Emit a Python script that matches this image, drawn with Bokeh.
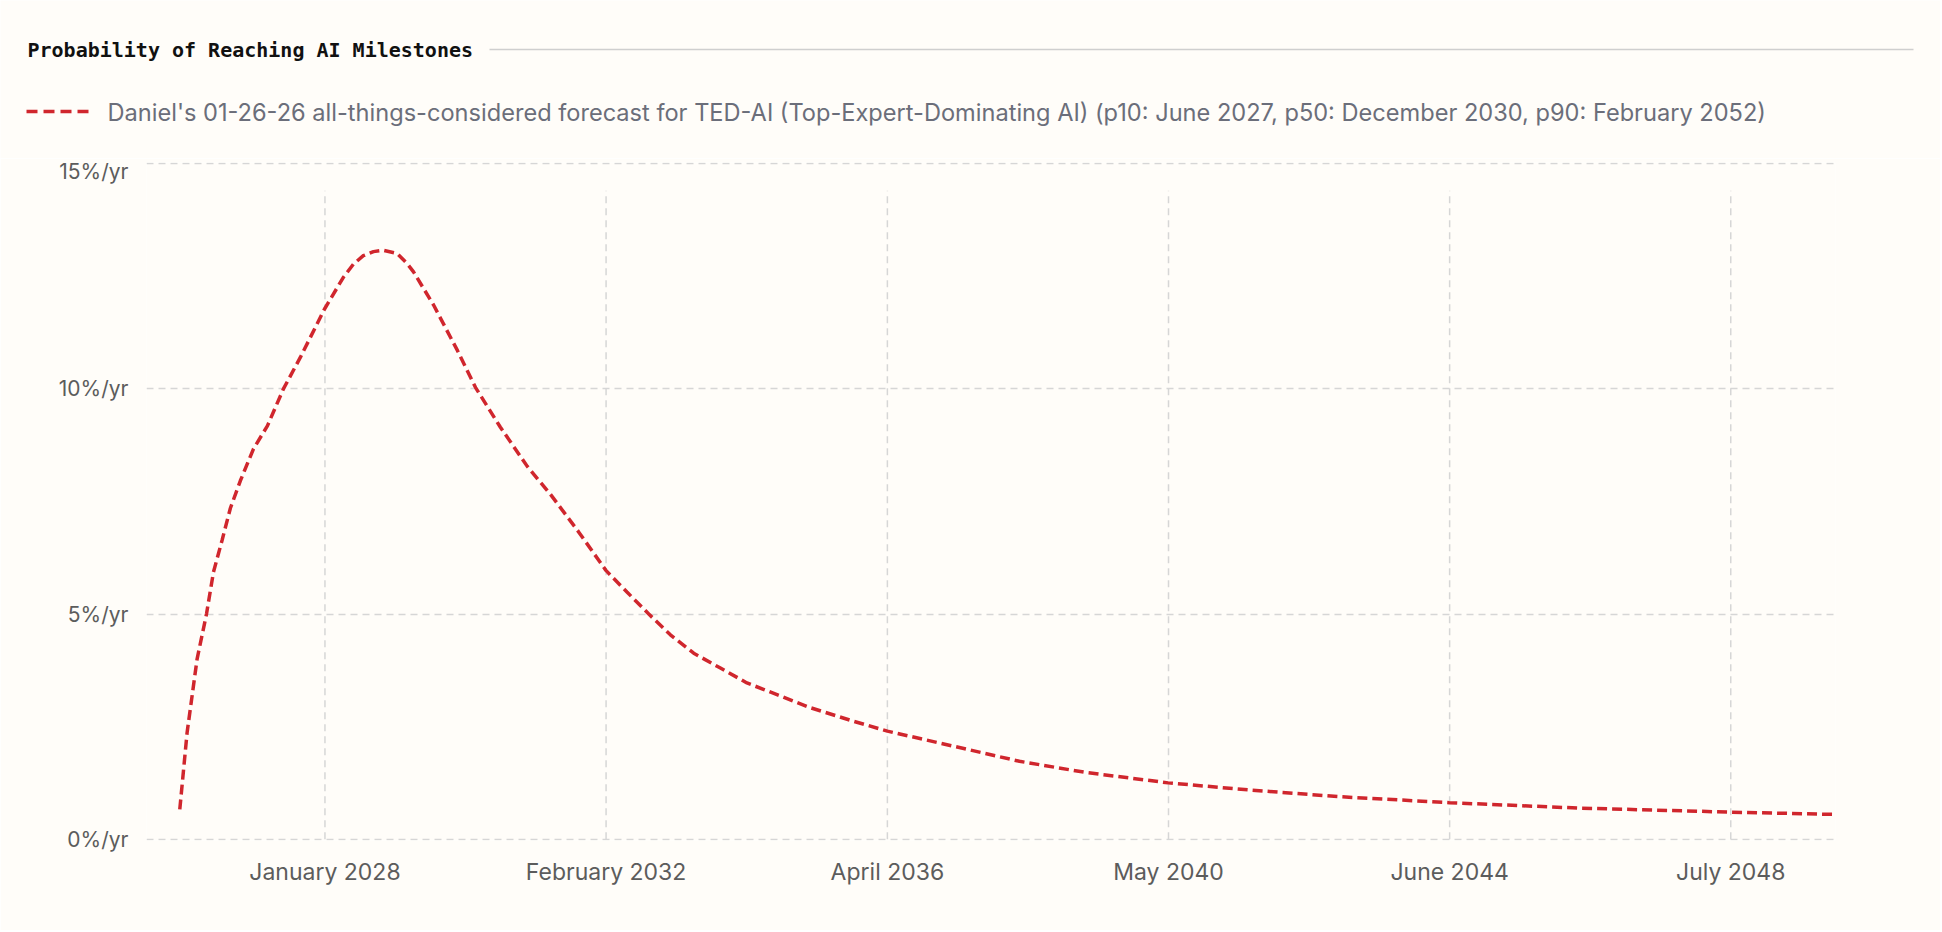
import pandas as pd
from bokeh.plotting import figure
from bokeh.models import Range1d, FixedTicker, DatetimeTickFormatter, PrintfTickFormatter
from bokeh.core.properties import value
from bokeh.embed import file_html
from bokeh.resources import INLINE

# ---- data ----
title_text = "Probability of Reaching AI Milestones"
series_name = ("Daniel's 01-26-26 all-things-considered forecast for TED-AI "
               "(Top-Expert-Dominating AI) (p10: June 2027, p50: December 2030, p90: February 2052)")
dates = [
    "2025-12-14", "2026-01-22", "2026-03-16", "2026-05-05", "2026-06-11", "2026-07-27",
    "2026-09-09", "2026-11-01", "2027-01-10", "2027-03-25", "2027-06-18", "2027-09-16",
    "2028-01-22", "2028-05-02", "2028-06-24", "2028-08-16", "2028-10-09", "2028-12-01",
    "2029-02-12", "2029-04-07", "2029-05-10", "2029-08-24", "2029-12-30", "2030-04-05",
    "2030-08-15", "2031-01-05", "2031-05-08", "2031-10-04", "2032-02-27", "2032-06-18",
    "2032-10-12", "2033-02-04", "2033-06-08", "2033-10-28", "2034-03-18", "2034-08-25",
    "2035-02-18", "2035-10-05", "2036-04-03", "2037-03-15", "2038-03-06", "2039-02-24",
    "2040-05-05", "2041-07-15", "2042-11-16", "2044-06-08", "2046-04-28", "2048-07-15",
    "2050-01-14",
]
prob = [
    0.66, 2.37, 4.0, 5.0, 5.93, 6.64,
    7.35, 7.96, 8.67, 9.18, 10.0, 10.7,
    11.77, 12.48, 12.77, 12.96, 13.05, 13.08,
    13.01, 12.78, 12.6, 11.87, 10.85, 10.03,
    9.15, 8.28, 7.66, 6.83, 5.97, 5.49,
    5.0, 4.54, 4.13, 3.80, 3.47, 3.21,
    2.92, 2.62, 2.40, 2.07, 1.73, 1.48,
    1.25, 1.09, 0.94, 0.81, 0.69, 0.60,
    0.55,
]
x_ticks = ["2028-01-25", "2032-02-28", "2036-04-03", "2040-05-07", "2044-06-10", "2048-07-14"]
y_ticks = [0, 5, 10, 15]
x_start, x_end = "2025-06-20", "2050-01-22"

# ---- style ----
BG = "#fffdf9"
RED = "#d0262d"
GRID = "#d6d6d6"
TICK_COLOR = "#5c5c5c"
LEGEND_COLOR = "#6b6e7a"
FONT = "Inter"

W = 1940
HEAD_H = 158
MAIN_H = 772
BL, BR, BT, BB = 146, 105, 4, 90   # frame 1689 x 678

# ---- header: title with rule, legend ----
head = figure(width=W, height=HEAD_H, output_backend="svg", toolbar_location=None,
              x_range=Range1d(0, W), y_range=Range1d(HEAD_H, 0),
              min_border=0, outline_line_color=None)
head.axis.visible = False
head.grid.visible = False
head.background_fill_color = BG
head.border_fill_color = BG
head.text(x=[27], y=[49.5], text=[title_text], text_font=value("DejaVu Sans Mono"),
          text_font_style="bold", text_font_size="20px", text_color="#111111",
          text_baseline="middle", text_align="left")
head.segment(x0=[489], y0=[49], x1=[1913], y1=[49], line_color="#cfcfcf", line_width=1.5)
head.segment(x0=[26], y0=[111], x1=[90], y1=[111], line_color=RED, line_width=3.5,
             line_dash="11 6")
head.text(x=[107], y=[111.5], text=[series_name], text_font=value(FONT),
          text_font_size="23.6px", text_color=LEGEND_COLOR,
          text_baseline="middle", text_align="left")

# ---- main chart ----
xs = pd.to_datetime(dates)
tick_ts = pd.to_datetime(x_ticks)
epoch = pd.Timestamp("1970-01-01")
tick_ms = [float((t - epoch) / pd.Timedelta(milliseconds=1)) for t in tick_ts]

p = figure(width=W, height=MAIN_H, output_backend="svg", toolbar_location=None,
           x_axis_type="datetime",
           x_range=Range1d(pd.Timestamp(x_start), pd.Timestamp(x_end)),
           y_range=Range1d(-0.03, 15.03),
           min_border_left=BL, min_border_right=BR, min_border_top=BT, min_border_bottom=BB,
           outline_line_color=None)
p.background_fill_color = BG
p.border_fill_color = BG

p.xaxis.ticker = FixedTicker(ticks=tick_ms)
fmt = "%B %Y"
p.xaxis.formatter = DatetimeTickFormatter(microseconds=fmt, milliseconds=fmt, seconds=fmt,
                                          minsec=fmt, minutes=fmt, hourmin=fmt, hours=fmt,
                                          days=fmt, months=fmt, years=fmt)
p.yaxis.ticker = FixedTicker(ticks=y_ticks)
p.yaxis.formatter = PrintfTickFormatter(format="%d%%/yr")

for ax in (p.xaxis, p.yaxis):
    ax.axis_line_color = None
    ax.major_tick_line_color = None
    ax.minor_tick_line_color = None
    ax.major_tick_out = 0
    ax.major_tick_in = 0
    ax.major_label_text_font = FONT
    ax.major_label_text_color = TICK_COLOR
p.xaxis.major_label_text_font_size = "23px"
p.yaxis.major_label_text_font_size = "21px"
p.xaxis.major_label_standoff = 17
p.yaxis.major_label_standoff = 18

p.xgrid.visible = False
p.ygrid.grid_line_color = GRID
p.ygrid.grid_line_dash = "7 5"
p.ygrid.grid_line_width = 1.5

# vertical grid lines (they stop short of the top, as in the reference)
p.segment(x0=list(tick_ts), y0=[0] * len(tick_ts), x1=list(tick_ts), y1=[14.4] * len(tick_ts),
          line_color=GRID, line_width=1.5, line_dash="7 5")

p.line(xs, prob, line_color=RED, line_width=3.5, line_dash="10 5")

open("out.html", "w").write(file_html([head, p], INLINE))
